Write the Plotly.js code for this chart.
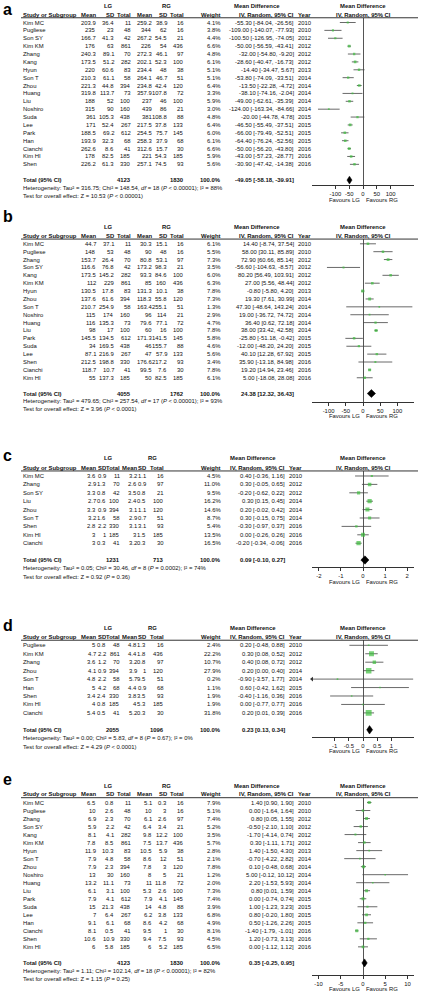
<!DOCTYPE html>
<html><head><meta charset="utf-8">
<script src="https://cdn.plot.ly/plotly-3.0.1.min.js"></script>
<style>html,body{margin:0;padding:0;background:#fff}</style>
</head><body><div id="chart" style="width:421px;height:992px"></div>
<script>
// ---------- Panel a ----------
const studiesA = ["Kim MC","Pugliese","Son SY","Kim KM","Zhang","Kang","Hyun","Son T","Zhou","Huang","Liu","Noshiro","Suda","Lee","Park","Han","Cianchi","Kim HI","Shen"];
const lgMeanA = [203.9,235,166.7,176,240.3,173.5,220,210.3,221.3,319.8,188,315,361,171,188.5,193.9,262.6,178,226.2];
const lgSdA = [36.4,23,41.3,63,89.1,51.2,60.6,61.1,44.8,113.7,52,90,105.3,52.4,69.2,32.3,8.6,82.5,61.3];
const lgNA = [11,48,42,861,70,282,83,58,394,73,100,160,438,267,612,68,41,185,330];
const rgMeanA = [259.2,344,267.2,226,272.3,202.1,234.4,264.1,234.8,357.9,237,439,381,217.5,254.5,258.3,312.6,221,257.1];
const rgSdA = [38.9,62,54.5,54,46.1,52.3,48,46.7,42.4,107.8,46,86,108.8,37.8,75.7,37.9,15.7,54.3,74.5];
const rgNA = [16,16,21,436,97,100,38,51,120,72,100,21,88,133,145,68,30,185,93];
const weightA = [4.1,3.8,4.4,6.6,4.8,6.1,5.1,5.1,6.4,3.3,5.9,3.0,4.8,6.4,6.0,6.1,6.6,5.9,5.6];
const mdA = [-55.30,-109.00,-100.50,-50.00,-32.00,-28.60,-14.40,-53.80,-13.50,-38.10,-49.00,-124.00,-20.00,-46.50,-66.00,-64.40,-50.00,-43.00,-30.90];
const loA = [-84.04,-140.07,-126.95,-56.59,-54.80,-40.47,-34.47,-74.09,-22.28,-74.16,-62.61,-163.34,-44.78,-55.49,-79.49,-76.24,-56.20,-57.23,-47.42];
const hiA = [-26.56,-77.93,-74.05,-43.41,-9.20,-16.73,5.67,-33.51,-4.72,-2.04,-35.39,-84.66,4.78,-37.51,-52.51,-52.56,-43.80,-28.77,-14.38];
const yearA = [2010,2010,2012,2012,2012,2012,2013,2014,2014,2014,2014,2014,2015,2015,2015,2015,2016,2016,2016];
const totalNA = [4123,1830];
const totalMdA = [-49.05,-58.18,-39.91];
const hetA = [316.75,148.54,18,"&lt; 0.00001",88];
const testA = [10.53,"&lt; 0.00001"];
const ticksA = [-100,-50,0,50,100];
const tickLabelsA = ["-100","-50","0","50","100"];

// ---------- Panel b ----------
const studiesB = ["Kim MC","Pugliese","Zhang","Son SY","Kang","Kim KM","Hyun","Zhou","Son T","Noshiro","Huang","Liu","Park","Suda","Lee","Shen","Cianchi","Kim HI"];
const lgMeanB = [44.7,148,153.7,116.6,173.5,112,130.5,137.6,210.7,115,116,98,145.5,34,87.1,212.5,118.7,55];
const lgSdB = [37.1,53,26.4,76.8,145.2,229,17.8,61.6,254.9,174,135.3,17,134.5,169.5,216.9,198.8,10.7,137.3];
const lgNB = [11,48,70,42,282,861,83,394,58,160,73,100,612,438,267,330,41,185];
const rgMeanB = [30.3,90,80.8,173.2,93.3,85,131.3,118.3,163.4,96,79.6,60,171.3,46,47,176.6,99.5,50];
const rgSdB = [15.1,48,53.1,98.3,84.6,160,10.1,55.8,255.1,114,77.1,16,141.5,155.7,57.9,217.2,7.6,82.5];
const rgNB = [16,16,97,21,100,436,38,120,51,21,72,100,145,88,133,93,30,185];
const weightB = [6.1,5.5,7.3,3.5,6.0,6.3,7.8,7.3,1.3,2.9,4.7,7.8,5.8,4.6,5.6,3.4,7.8,6.1];
const mdB = [14.40,58.00,72.90,-56.60,80.20,27.00,-0.80,19.30,47.30,19.00,36.40,38.00,-25.80,-12.00,40.10,35.90,19.20,5.00];
const loB = [-8.74,30.11,60.66,-104.63,56.49,5.56,-5.80,7.61,-48.64,-36.72,0.62,33.42,-51.18,-48.20,12.28,-13.18,14.94,-18.08];
const hiB = [37.54,85.89,85.14,-8.57,103.91,48.44,4.20,30.99,143.24,74.72,72.18,42.58,-0.42,24.20,67.92,84.98,23.46,28.08];
const yearB = [2010,2010,2012,2012,2012,2012,2013,2014,2014,2014,2014,2014,2015,2015,2015,2016,2016,2016];
const totalNB = [4055,1762];
const totalMdB = [24.38,12.32,36.43];
const hetB = [479.65,257.54,17,"&lt; 0.00001",93];
const testB = [3.96,"&lt; 0.0001"];
const ticksB = [-100,-50,0,50,100];
const tickLabelsB = ["-100","-50","0","50","100"];

// ---------- Panel c ----------
const studiesC = ["Kim MC","Zhang","Son SY","Liu","Zhou","Son T","Shen","Kim HI","Cianchi"];
const lgMeanC = [3.6,2.9,3.3,2.7,3.3,3.2,2.8,3,3];
const lgSdC = [0.9,1.3,0.8,0.6,0.9,1.6,2.2,1,0.3];
const lgNC = [11,70,42,100,394,58,330,185,41];
const rgMeanC = [3.2,2.6,3.5,2.4,3.1,2.9,3.1,3,3.2];
const rgSdC = [1.1,0.9,0.8,0.5,1.1,0.7,3.1,1.5,0.3];
const rgNC = [16,97,21,100,120,51,93,185,30];
const weightC = [4.5,11.0,9.5,16.2,14.6,8.7,5.4,13.5,16.5];
const mdC = [0.40,0.30,-0.20,0.30,0.20,0.30,-0.30,0.00,-0.20];
const loC = [-0.36,-0.05,-0.62,0.15,-0.02,-0.15,-0.97,-0.26,-0.34];
const hiC = [1.16,0.65,0.22,0.45,0.42,0.75,0.37,0.26,-0.06];
const yearC = [2010,2012,2012,2014,2014,2014,2016,2016,2016];
const totalNC = [1231,713];
const totalMdC = [0.09,-0.10,0.27];
const hetC = [0.05,30.46,8,"= 0.0002",74];
const testC = [0.92,"= 0.36"];
const ticksC = [-2,-1,0,1,2];
const tickLabelsC = ["-2","-1","0","1","2"];

// ---------- Panel d ----------
const studiesD = ["Pugliese","Kim KM","Zhang","Zhou","Son T","Han","Shen","Kim HI","Cianchi"];
const lgMeanD = [5,4.7,3.6,4.1,4.8,5,3.4,4,5.4];
const lgSdD = [0.8,2.2,1.2,0.9,2.2,4.2,2.4,0.8,0.5];
const lgND = [48,861,70,394,58,68,330,185,41];
const rgMeanD = [4.8,4.4,3.2,3.9,5.7,4.4,3.8,4,5.2];
const rgSdD = [1.3,1.8,0.8,1,9.5,0.9,3.5,5.3,0.3];
const rgND = [16,436,97,120,51,68,93,185,30];
const weightD = [2.4,22.2,10.7,27.9,0.2,1.1,1.9,1.9,31.8];
const mdD = [0.20,0.30,0.40,0.20,-0.90,0.60,-0.40,0.00,0.20];
const loD = [-0.48,0.08,0.08,0.00,-3.57,-0.42,-1.16,-0.77,0.01];
const hiD = [0.88,0.52,0.72,0.40,1.77,1.62,0.36,0.77,0.39];
const yearD = [2010,2012,2012,2014,2014,2015,2016,2016,2016];
const totalND = [2055,1096];
const totalMdD = [0.23,0.13,0.34];
const hetD = [0.00,5.83,8,"= 0.67",0];
const testD = [4.29,"&lt; 0.0001"];
const ticksD = [-1,-0.5,0,0.5,1];
const tickLabelsD = ["-1","-0.5","0","0.5","1"];

// ---------- Panel e ----------
const studiesE = ["Kim MC","Pugliese","Zhang","Son SY","Kang","Kim KM","Hyun","Son T","Zhou","Noshiro","Huang","Liu","Park","Suda","Lee","Han","Cianchi","Shen","Kim HI"];
const lgMeanE = [6.5,10,6.9,5.9,8.1,7.8,11.9,7.9,7.9,13,13.2,6.1,7.9,15,7,9.1,8.1,10.6,6];
const lgSdE = [0.8,2.6,2.3,2.2,4.1,8.5,10.3,4.8,2.3,30,11.1,3.1,4.1,21.3,6.4,6.1,0.5,10.9,5.8];
const lgNE = [11,48,70,42,282,861,83,58,394,160,73,100,612,438,267,68,41,330,185];
const rgMeanE = [5.1,10,6.1,6.4,9.8,7.5,10.5,8.6,7.8,8,11,5.3,7.9,14,6.2,8.6,9.5,9.4,6];
const rgSdE = [0.3,3,2.6,3.4,12.2,13.7,5.9,12,3,5,11.8,2.6,4.1,4.8,3.8,4.2,1,7.5,5.2];
const rgNE = [16,16,97,21,100,436,38,51,120,21,72,100,145,88,133,68,30,93,185];
const weightE = [7.9,5.1,7.4,5.2,3.5,5.7,2.8,2.1,7.8,1.2,2.0,7.3,7.4,3.9,6.8,4.9,8.1,4.5,6.5];
const mdE = [1.40,0.00,0.80,-0.50,-1.70,0.30,1.40,-0.70,0.10,5.00,2.20,0.80,0.00,1.00,0.80,0.50,-1.40,1.20,0.00];
const loE = [0.90,-1.64,0.05,-2.10,-4.14,-1.11,-1.50,-4.22,-0.48,-0.12,-1.53,0.01,-0.74,-1.23,-0.20,-1.26,-1.79,-0.73,-1.12];
const hiE = [1.90,1.64,1.55,1.10,0.74,1.71,4.30,2.82,0.68,10.12,5.93,1.59,0.74,3.23,1.80,2.26,-1.01,3.13,1.12];
const yearE = [2010,2010,2012,2012,2012,2012,2013,2014,2014,2014,2014,2014,2015,2015,2015,2015,2016,2016,2016];
const totalNE = [4123,1830];
const totalMdE = [0.35,-0.25,0.95];
const hetE = [1.11,102.14,18,"&lt; 0.00001",82];
const testE = [1.15,"= 0.25"];
const ticksE = [-10,-5,0,5,10];
const tickLabelsE = ["-10","-5","0","5","10"];

// ---------- layout helpers ----------
const W = 421, H = 992;
const FONT = 'Liberation Sans, Arial, sans-serif';
const FS = 5.9;
const TXT = '#111';
const GREEN = '#3fbf3f';

const WIDE = {name:21.7, lgM:96.7, lgSD:115, lgN:131.5, rgM:152.5, rgSD:168.3, rgN:185, wt:222, md:295, yr:297, lgHdr:108.5, rgHdr:166, mdHdr:257};
const NARROW = {name:21.7, lgM:97, lgSD:107, lgN:121, rgM:137.5, rgSD:146.5, rgN:165, wt:222, md:286, yr:287.5, lgHdr:109, rgHdr:152, mdHdr:253};

const panels = [
 {L:'a', st:studiesA, lm:lgMeanA, ls:lgSdA, ln:lgNA, rm:rgMeanA, rs:rgSdA, rn:rgNA, w:weightA, md:mdA, lo:loA, hi:hiA, yr:yearA, tn:totalNA, tm:totalMdA, het:hetA, test:testA, tv:ticksA, tt:tickLabelsA,
  g:{p0:22.5, s:7.88, axis:185, letter:0, cols:WIDE, xr:185}},
 {L:'b', st:studiesB, lm:lgMeanB, ls:lgSdB, ln:lgNB, rm:rgMeanB, rs:rgSdB, rn:rgNB, w:weightB, md:mdB, lo:loB, hi:hiB, yr:yearB, tn:totalNB, tm:totalMdB, het:hetB, test:testB, tv:ticksB, tt:tickLabelsB,
  g:{p0:243.8, s:7.88, axis:401.7, letter:207, cols:WIDE, xr:148}},
 {L:'c', st:studiesC, lm:lgMeanC, ls:lgSdC, ln:lgNC, rm:rgMeanC, rs:rgSdC, rn:rgNC, w:weightC, md:mdC, lo:loC, hi:hiC, yr:yearC, tn:totalNC, tm:totalMdC, het:hetC, test:testC, tv:ticksC, tt:tickLabelsC,
  g:{p0:476, s:8.4, axis:567.3, letter:446, cols:NARROW, xr:2.31}},
 {L:'d', st:studiesD, lm:lgMeanD, ls:lgSdD, ln:lgND, rm:rgMeanD, rs:rgSdD, rn:rgND, w:weightD, md:mdD, lo:loD, hi:hiD, yr:yearD, tn:totalND, tm:totalMdD, het:hetD, test:testD, tv:ticksD, tt:tickLabelsD,
  g:{p0:645.3, s:8.45, axis:736.7, letter:616, cols:NARROW, xr:1.8}},
 {L:'e', st:studiesE, lm:lgMeanE, ls:lgSdE, ln:lgNE, rm:rgMeanE, rs:rgSdE, rn:rgNE, w:weightE, md:mdE, lo:loE, hi:hiE, yr:yearE, tn:totalNE, tm:totalMdE, het:hetE, test:testE, tv:ticksE, tt:tickLabelsE,
  g:{p0:802.5, s:8.02, axis:974.7, letter:770, cols:WIDE, xr:11.46}}
];

const FX0 = 312, FX1 = 414, FXC = (FX0 + FX1) / 2;
const ann = [], shapes = [], traces = [];
const layout = {width:W, height:H, margin:{l:0,r:0,t:0,b:0}, paper_bgcolor:'#fff', plot_bgcolor:'rgba(0,0,0,0)', showlegend:false, hovermode:false};

function T(px, py, text, anchor, extra) {
  const a = {xref:'paper', yref:'paper', x:px/W, y:1-py/H, text:text, showarrow:false,
    xanchor:anchor||'left', yanchor:'middle', borderpad:0, font:{family:FONT, size:FS, color:TXT}};
  if (extra) Object.assign(a, extra);
  ann.push(a);
}
const fmtCI = (m,l,h) => `${m.toFixed(2)} [${l.toFixed(2)}, ${h.toFixed(2)}]`;

panels.forEach((p, i) => {
  const n = i === 0 ? '' : String(i+1);
  const g = p.g, c = g.cols;
  const rowPx = k => g.p0 + k*g.s;
  const nS = p.st.length;
  const kTot = nS + 1;
  const underPx = rowPx(-0.6);

  // panel letter
  T(2, g.letter, '<b>'+p.L+'</b>', 'left', {yanchor:'top', font:{family:FONT, size:16, color:'#000'}});

  // headers
  const hY1 = rowPx(-2.1), hY2 = rowPx(-1);
  T(c.lgHdr, hY1, '<b>LG</b>', 'center');
  T(c.rgHdr, hY1, '<b>RG</b>', 'center');
  T(c.mdHdr, hY1, '<b>Mean Difference</b>', 'center');
  T(FXC, hY1, '<b>Mean Difference</b>', 'center');
  T(c.name, hY2, '<b>Study or Subgroup</b>', 'left');
  T(c.lgM, hY2, '<b>Mean</b>', 'right');
  T(c.lgSD, hY2, '<b>SD</b>', 'right');
  T(c.lgN, hY2, '<b>Total</b>', 'right');
  T(c.rgM, hY2, '<b>Mean</b>', 'right');
  T(c.rgSD, hY2, '<b>SD</b>', 'right');
  T(c.rgN, hY2, '<b>Total</b>', 'right');
  T(c.wt, hY2, '<b>Weight</b>', 'right');
  T(c.md, hY2, '<b>IV, Random, 95% CI</b>', 'right');
  T(c.yr, hY2, '<b>Year</b>', 'left');
  T(FXC, hY2, '<b>IV, Random, 95% CI</b>', 'center');
  shapes.push({type:'line', xref:'paper', yref:'paper', x0:21/W, x1:418/W, y0:1-underPx/H, y1:1-underPx/H, line:{color:'#333', width:1}});

  // study rows
  for (let k = 0; k < nS; k++) {
    const y = rowPx(k);
    T(c.name, y, p.st[k], 'left');
    T(c.lgM, y, String(p.lm[k]), 'right');
    T(c.lgSD, y, String(p.ls[k]), 'right');
    T(c.lgN, y, String(p.ln[k]), 'right');
    T(c.rgM, y, String(p.rm[k]), 'right');
    T(c.rgSD, y, String(p.rs[k]), 'right');
    T(c.rgN, y, String(p.rn[k]), 'right');
    T(c.wt, y, p.w[k].toFixed(1)+'%', 'right');
    T(c.md, y, fmtCI(p.md[k], p.lo[k], p.hi[k]), 'right');
    T(c.yr, y, String(p.yr[k]), 'left');
  }
  // total row
  const yT = rowPx(kTot);
  T(c.name, yT, '<b>Total (95% CI)</b>', 'left');
  T(c.lgN, yT, '<b>'+p.tn[0]+'</b>', 'right');
  T(c.rgN, yT, '<b>'+p.tn[1]+'</b>', 'right');
  T(c.wt, yT, '<b>100.0%</b>', 'right');
  T(c.md, yT, '<b>'+fmtCI(p.tm[0], p.tm[1], p.tm[2])+'</b>', 'right');
  const h = p.het;
  T(c.name, rowPx(kTot+1), `Heterogeneity: Tau² = ${h[0].toFixed(2)}; Chi² = ${h[1].toFixed(2)}, <i>df</i> = ${h[2]} (<i>P</i> ${h[3]}); I² = ${h[4]}%`, 'left');
  T(c.name, rowPx(kTot+2), `Test for overall effect: Z = ${p.test[0].toFixed(2)} (<i>P</i> ${p.test[1]})`, 'left');

  // favours
  T(FXC-2, g.axis+14.5, 'Favours LG', 'right');
  T(FXC+2, g.axis+14.5, 'Favours RG', 'left');

  // axes
  const vOf = px => -(px - g.p0)/g.s;
  layout['xaxis'+n] = {domain:[FX0/W, FX1/W], range:[-g.xr, g.xr], anchor:'y'+n, showline:true, linecolor:'#333', linewidth:1,
    ticks:'outside', ticklen:3, tickwidth:1, tickcolor:'#333', tickvals:p.tv, ticktext:p.tt,
    tickfont:{family:FONT, size:FS, color:TXT}, showgrid:false, zeroline:true, zerolinecolor:'#555', zerolinewidth:1, fixedrange:true};
  layout['yaxis'+n] = {domain:[1-g.axis/H, 1-underPx/H], range:[vOf(g.axis), vOf(underPx)], anchor:'x'+n,
    showline:false, showticklabels:false, showgrid:false, zeroline:false, ticks:'', fixedrange:true};

  // CI lines
  const cx = [], cy = [];
  for (let k = 0; k < nS; k++) { cx.push(p.lo[k], p.hi[k], null); cy.push(-k, -k, null); }
  traces.push({type:'scatter', mode:'lines', x:cx, y:cy, xaxis:'x'+n, yaxis:'y'+n, line:{color:'#444', width:0.8}, hoverinfo:'skip'});
  // squares
  traces.push({type:'scatter', mode:'markers', x:p.md, y:p.md.map((_,k)=>-k), xaxis:'x'+n, yaxis:'y'+n,
    marker:{symbol:'square', color:GREEN, size:p.w.map(v=>Math.max(1.6, 1.05*Math.sqrt(v))), line:{width:0}}, hoverinfo:'skip'});
  // arrows for CIs beyond the axis
  const ax = [], ay = [], as = [];
  for (let k = 0; k < nS; k++) {
    if (p.lo[k] < -g.xr) { ax.push(-g.xr); ay.push(-k); as.push('triangle-left'); }
    if (p.hi[k] > g.xr) { ax.push(g.xr); ay.push(-k); as.push('triangle-right'); }
  }
  if (ax.length) traces.push({type:'scatter', mode:'markers', x:ax, y:ay, xaxis:'x'+n, yaxis:'y'+n, cliponaxis:false,
    marker:{symbol:as, color:'#333', size:4}, hoverinfo:'skip'});
  // diamond
  const tm = p.tm, dh = 0.5;
  traces.push({type:'scatter', mode:'lines', x:[tm[1], tm[0], tm[2], tm[0], tm[1]], y:[-kTot, -kTot+dh, -kTot, -kTot-dh, -kTot],
    xaxis:'x'+n, yaxis:'y'+n, fill:'toself', fillcolor:'#000', line:{color:'#000', width:0.5}, hoverinfo:'skip'});
});

layout.annotations = ann;
layout.shapes = shapes;
Plotly.newPlot('chart', traces, layout, {staticPlot:true, displayModeBar:false});
</script>
</body></html>
